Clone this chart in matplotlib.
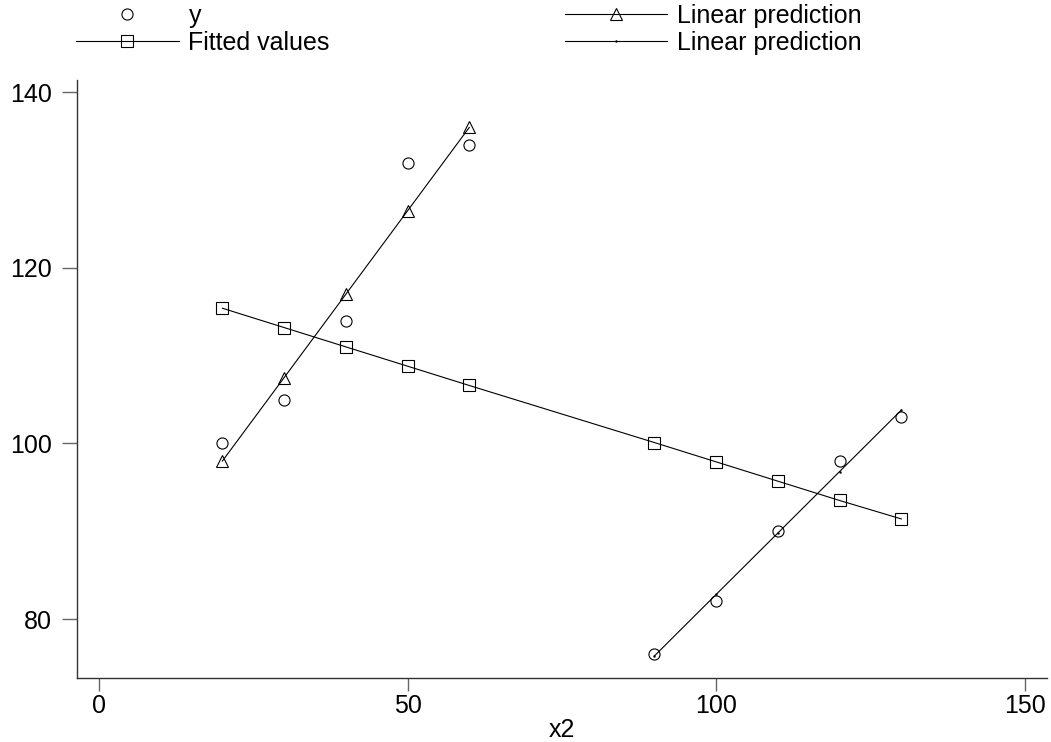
#!/usr/bin/env python3
"""Scatter of y against x2 with overall and by-group linear fits (Stata-like look)."""

import matplotlib

matplotlib.use("Agg")

import matplotlib.pyplot as plt

plt.rcParams["font.family"] = ["Liberation Sans", "DejaVu Sans"]

# observed data
x2 = [20, 30, 40, 50, 60, 90, 100, 110, 120, 130]
y = [100, 105, 114, 132, 134, 76, 82, 90, 98, 103]

# overall fitted values
fitted = [115.4, 113.2, 111.0, 108.8, 106.6, 100.1, 97.9, 95.7, 93.5, 91.4]

# group-wise linear predictions
x_low = [20, 30, 40, 50, 60]
pred_low = [98.0, 107.5, 117.0, 126.5, 136.0]
x_high = [90, 100, 110, 120, 130]
pred_high = [75.8, 82.8, 89.8, 96.8, 103.8]

x_ticks = [0, 50, 100, 150]
y_ticks = [80, 100, 120, 140]

W, H = 1051, 742
fig = plt.figure(figsize=(W / 100, H / 100), dpi=100, facecolor="white")
ax = fig.add_axes([77 / W, 1 - 678 / H, (1047 - 77) / W, (678 - 80) / H])

lw = 0.8
mk = dict(markersize=8, markerfacecolor="none", markeredgecolor="black", markeredgewidth=0.8)

h_y, = ax.plot(x2, y, linestyle="none", marker="o", label="y", **mk)
h_fit, = ax.plot(x2, fitted, color="black", lw=lw, marker="s", label="Fitted values", **mk)
h_low, = ax.plot(x_low, pred_low, color="black", lw=lw, marker="^", label="Linear prediction", **mk)
h_high, = ax.plot(x_high, pred_high, color="black", lw=lw, marker=".", markersize=1.5,
                  label="Linear prediction")

ax.set_xlim(-3.56, 153.6)
ax.set_ylim(73.28, 141.4)
ax.set_xticks(x_ticks)
ax.set_yticks(y_ticks)
ax.set_xlabel("x2", fontsize=18, labelpad=0)

for side in ("top", "right"):
    ax.spines[side].set_visible(False)
for side in ("left", "bottom"):
    ax.spines[side].set_color("#333333")
    ax.spines[side].set_linewidth(1.0)

ax.tick_params(axis="x", length=9.5, width=1.0, color="#666666", labelsize=18, pad=2)
ax.tick_params(axis="y", length=10.8, width=1.0, color="#666666", labelsize=18, pad=7)

leg = ax.legend(
    handles=[h_y, h_fit, h_low, h_high],
    ncol=2,
    loc="upper left",
    bbox_to_anchor=(76 / W, 1 - 4 / H),
    bbox_transform=fig.transFigure,
    frameon=False,
    fontsize=18,
    handlelength=4.1,
    handletextpad=0.4,
    columnspacing=9.4,
    labelspacing=0.12,
    borderaxespad=0,
    borderpad=0,
)

fig.savefig("out.png", dpi=100, facecolor="white")
